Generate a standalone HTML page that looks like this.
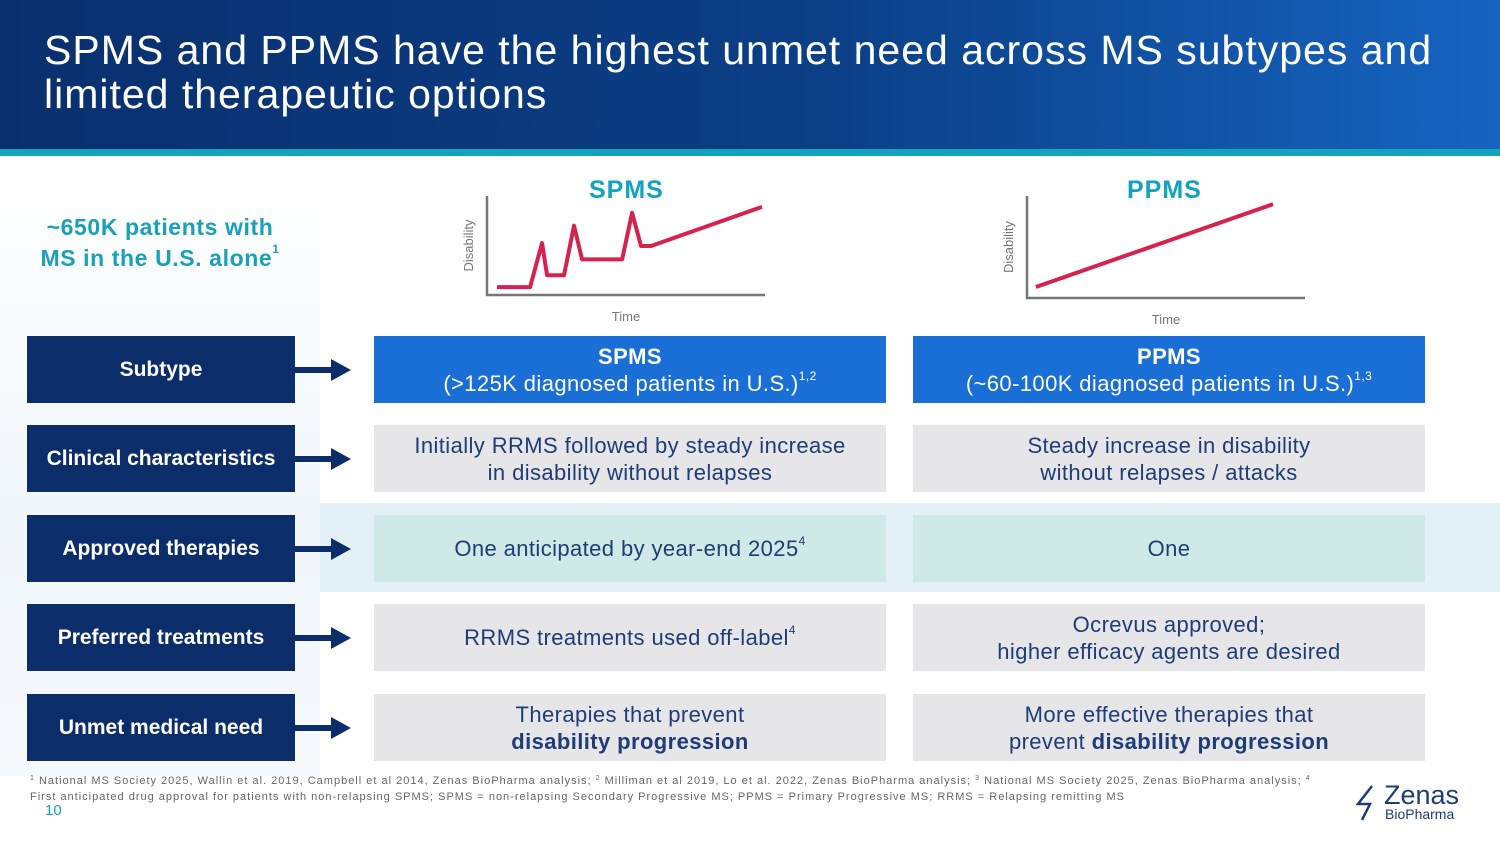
<!DOCTYPE html>
<html><head><meta charset="utf-8"><style>
*{margin:0;padding:0;box-sizing:border-box}
body{width:1500px;height:844px;position:relative;overflow:hidden;background:#fff;font-family:"Liberation Sans",sans-serif}
.abs{position:absolute}
.hdr{left:0;top:0;width:1500px;height:149px;background:linear-gradient(90deg,#0a2f6e 0%,#0b3f86 55%,#1664c0 100%)}
.stripe{left:0;top:149px;width:1500px;height:7px;background:#12a3bf}
.title{left:44px;top:28px;color:#fff;font-size:41px;line-height:44px;letter-spacing:1.0px}
.leftbg{left:0;top:156px;width:320px;height:620px;background:linear-gradient(180deg,#fff 0%,#f1f6fb 60%,#f6f9fc 100%)}
.band{left:320px;top:503px;width:1180px;height:89px;background:#e3f1f6}
.lab{left:27px;width:268px;height:67px;background:#0b2e6b;color:#fff;font-weight:bold;font-size:21px;display:flex;align-items:center;justify-content:center}
.cell{width:512px;height:67px;background:#e6e6e8;color:#1d3c78;font-size:22px;letter-spacing:0.4px;display:flex;align-items:center;justify-content:center;text-align:center;line-height:27px}
.blue{background:#1a6fd6;color:#fff}
.teal{background:#cfe9e6}
sup{font-size:12px;vertical-align:top;line-height:12px}
.ctitle{color:#12a3bf;font-weight:bold;font-size:25px;letter-spacing:1px}
</style></head><body>
<div class="abs hdr"></div>
<div class="abs stripe"></div>
<div class="abs title">SPMS and PPMS have the highest unmet need across MS subtypes and<br>limited therapeutic options</div>
<div class="abs leftbg"></div>
<div class="abs band"></div>
<div class="abs" style="left:20px;top:212px;width:280px;text-align:center;color:#1aa0b8;font-weight:bold;font-size:23px;line-height:31px;letter-spacing:0.6px">~650K patients with<br>MS in the U.S. alone<sup>1</sup></div>

<div class="abs ctitle" style="left:589px;top:176px">SPMS</div>
<div class="abs ctitle" style="left:1127px;top:176px">PPMS</div>
<svg class="abs" style="left:0;top:0" width="1500" height="340" id="charts"></svg>

<div class="abs lab" style="top:336px">Subtype</div>
<div class="abs lab" style="top:425px">Clinical characteristics</div>
<div class="abs lab" style="top:515px">Approved therapies</div>
<div class="abs lab" style="top:604px">Preferred treatments</div>
<div class="abs lab" style="top:694px">Unmet medical need</div>
<svg class="abs" style="left:295px;top:330px" width="60" height="420">
<g fill="#0b2e6b">
<rect x="0" y="37" width="40" height="6"/><polygon points="36,29 56,40 36,51"/>
<rect x="0" y="126" width="40" height="6"/><polygon points="36,118 56,129 36,140"/>
<rect x="0" y="216" width="40" height="6"/><polygon points="36,208 56,219 36,230"/>
<rect x="0" y="305" width="40" height="6"/><polygon points="36,297 56,308 36,319"/>
<rect x="0" y="395" width="40" height="6"/><polygon points="36,387 56,398 36,409"/>
</g></svg>

<div class="abs cell blue" style="left:374px;top:336px"><div><b>SPMS</b><br>(&gt;125K diagnosed patients in U.S.)<sup>1,2</sup></div></div>
<div class="abs cell blue" style="left:913px;top:336px"><div><b>PPMS</b><br>(~60-100K diagnosed patients in U.S.)<sup>1,3</sup></div></div>
<div class="abs cell" style="left:374px;top:425px">Initially RRMS followed by steady increase<br>in disability without relapses</div>
<div class="abs cell" style="left:913px;top:425px">Steady increase in disability<br>without relapses / attacks</div>
<div class="abs cell teal" style="left:374px;top:515px"><div>One anticipated by year-end 2025<sup>4</sup></div></div>
<div class="abs cell teal" style="left:913px;top:515px">One</div>
<div class="abs cell" style="left:374px;top:604px"><div>RRMS treatments used off-label<sup>4</sup></div></div>
<div class="abs cell" style="left:913px;top:604px">Ocrevus approved;<br>higher efficacy agents are desired</div>
<div class="abs cell" style="left:374px;top:694px"><div>Therapies that prevent<br><b>disability progression</b></div></div>
<div class="abs cell" style="left:913px;top:694px"><div>More effective therapies that<br>prevent <b>disability progression</b></div></div>

<div class="abs" style="left:30px;top:773px;width:1320px;font-size:11px;color:#666;line-height:16px;letter-spacing:1.0px;white-space:nowrap"><sup style="font-size:7px">1</sup> National MS Society 2025, Wallin et al. 2019, Campbell et al 2014, Zenas BioPharma analysis; <sup style="font-size:7px">2</sup> Milliman et al 2019, Lo et al. 2022, Zenas BioPharma analysis; <sup style="font-size:7px">3</sup> National MS Society 2025, Zenas BioPharma analysis; <sup style="font-size:7px">4</sup><br>First anticipated drug approval for patients with non-relapsing SPMS; SPMS = non-relapsing Secondary Progressive MS; PPMS = Primary Progressive MS; RRMS = Relapsing remitting MS</div>
<div class="abs" style="left:45px;top:802px;font-size:15px;color:#12a3bf">10</div>
<div class="abs" style="left:1354px;top:780px;color:#1d3c78">
<svg width="30" height="40" style="position:absolute;left:0;top:4px"><polyline points="18,2 4,20 16,20 8,36" fill="none" stroke="#1d3c78" stroke-width="2.5"/></svg>
<div style="position:absolute;left:30px;top:0;font-size:27px">Zenas</div>
<div style="position:absolute;left:31px;top:26px;font-size:14px">BioPharma</div></div>

<script>
const spmsTime=[3.6,15.5,19.8,21.6,27.7,31.3,34.2,48.6,52.2,55.4,59,98.9];
const spmsDisability=[8,8,52.5,20,20,70,36,36,83,49.5,49.5,89];
const ppmsTime=[3.2,88.5];
const ppmsDisability=[10.8,92];
const svg=document.getElementById('charts');
const NS='http://www.w3.org/2000/svg';
function chart(x0,x1,y0,y1,tx,dy,name){
  const sx=v=>x0+(x1-x0)*v/100, sy=v=>y0-(y0-y1)*v/100;
  const ax=document.createElementNS(NS,'polyline');
  ax.setAttribute('points',`${x0},${y1} ${x0},${y0} ${x1},${y0}`);
  ax.setAttribute('fill','none');ax.setAttribute('stroke','#777');ax.setAttribute('stroke-width','2.5');
  
  
  svg.appendChild(ax);
  const ln=document.createElementNS(NS,'polyline');
  ln.setAttribute('points',tx.map((t,i)=>sx(t)+','+sy(dy[i])).join(' '));
  ln.setAttribute('fill','none');ln.setAttribute('stroke','#d6224f');ln.setAttribute('stroke-width','4');ln.setAttribute('stroke-linejoin','round');
  
  
  svg.appendChild(ln);
  const xl=document.createElementNS(NS,'text');
  xl.setAttribute('x',(x0+x1)/2);xl.setAttribute('y',y0+26);xl.setAttribute('text-anchor','middle');
  xl.setAttribute('font-size','13');xl.setAttribute('fill','#777');xl.setAttribute('font-family','Liberation Sans, sans-serif');
  xl.textContent='Time';
  
  
  svg.appendChild(xl);
  const yl=document.createElementNS(NS,'text');
  const cx=x0-14, cy=(y0+y1)/2;
  yl.setAttribute('x',cx);yl.setAttribute('y',cy);yl.setAttribute('text-anchor','middle');
  yl.setAttribute('transform',`rotate(-90 ${cx} ${cy})`);
  yl.setAttribute('font-size','13');yl.setAttribute('fill','#777');yl.setAttribute('font-family','Liberation Sans, sans-serif');
  yl.textContent='Disability';
  
  
  svg.appendChild(yl);
}
chart(487,765,295,196,spmsTime,spmsDisability,'spms');
chart(1027,1305,298,196,ppmsTime,ppmsDisability,'ppms');
</script>
</body></html>
